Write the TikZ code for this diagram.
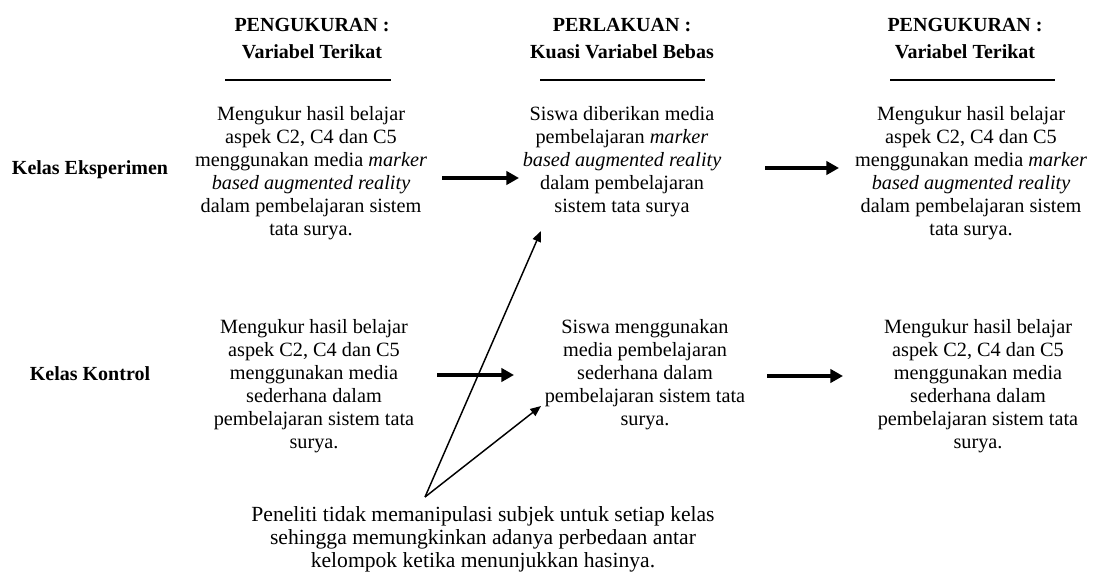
\documentclass[tikz,border=0pt]{standalone}
\usepackage{fontspec}
\setmainfont{Liberation Serif}
\usetikzlibrary{arrows.meta}
\begin{document}
\begin{tikzpicture}[x=0.75pt,y=-0.75pt,
  hdr/.style={font=\fontsize{15}{20.25}\selectfont\bfseries,align=center,inner sep=0pt},
  body/.style={font=\fontsize{15.2}{17.25}\selectfont,align=center,inner sep=0pt},
  note/.style={font=\fontsize{16.2}{17.25}\selectfont,align=center,inner sep=0pt},
  rowlbl/.style={font=\fontsize{15}{18}\selectfont\bfseries,inner sep=0pt},
  bigarrow/.style={line width=3pt,-{Triangle[length=9.5pt,width=10pt]}},
  thinarrow/.style={line width=1.1pt,-{Triangle[length=8pt,width=6.5pt]}},
  rule/.style={line width=0.8pt}]
\useasboundingbox (0,0) rectangle (1094,573);
% headers
\node[hdr] (h1) at (312,39) {PENGUKURAN :\\Variabel Terikat};
\node[hdr] (h2) at (622,39) {PERLAKUAN :\\Kuasi Variabel Bebas};
\node[hdr] (h3) at (965,39) {PENGUKURAN :\\Variabel Terikat};
\draw[rule] (225,80) -- (391,80);
\draw[rule] (540,80) -- (705,80);
\draw[rule] (890,80) -- (1055,80);
% row labels
\node[rowlbl] (re) at (90,170) {Kelas Eksperimen};
\node[rowlbl] (rk) at (90,374) {Kelas Kontrol};
% row 1
\node[body] (e1) at (311,173) {Mengukur hasil belajar\\aspek C2, C4 dan C5\\menggunakan media \textit{marker}\\\textit{based augmented reality}\\dalam pembelajaran sistem\\tata surya.};
\node[body] (e2) at (622,162) {Siswa diberikan media\\pembelajaran \textit{marker}\\\textit{based augmented reality}\\dalam pembelajaran\\sistem tata surya};
\node[body] (e3) at (971,173) {Mengukur hasil belajar\\aspek C2, C4 dan C5\\menggunakan media \textit{marker}\\\textit{based augmented reality}\\dalam pembelajaran sistem\\tata surya.};
% row 2
\node[body] (k1) at (314,386) {Mengukur hasil belajar\\aspek C2, C4 dan C5\\menggunakan media\\sederhana dalam\\pembelajaran sistem tata\\surya.};
\node[body] (k2) at (645,375) {Siswa menggunakan\\media pembelajaran\\sederhana dalam\\pembelajaran sistem tata\\surya.};
\node[body] (k3) at (978,386) {Mengukur hasil belajar\\aspek C2, C4 dan C5\\menggunakan media\\sederhana dalam\\pembelajaran sistem tata\\surya.};
% bottom note
\node[note] (n) at (483,539) {Peneliti tidak memanipulasi subjek untuk setiap kelas\\sehingga memungkinkan adanya perbedaan antar\\kelompok ketika menunjukkan hasinya.};
% arrow coordinates
\coordinate (a1s) at (442,178); \coordinate (a1e) at (519,178);
\coordinate (a2s) at (765,168); \coordinate (a2e) at (839,168);
\coordinate (a3s) at (437,375); \coordinate (a3e) at (514,375);
\coordinate (a4s) at (767,376); \coordinate (a4e) at (843,376);
\coordinate (ns) at (425,497);
\coordinate (t1) at (541,231);
\coordinate (t2) at (541,406);
\draw[bigarrow] (a1s) -- (a1e);
\draw[bigarrow] (a2s) -- (a2e);
\draw[bigarrow] (a3s) -- (a3e);
\draw[bigarrow] (a4s) -- (a4e);
\draw[thinarrow] (ns) -- (t1);
\draw[thinarrow] (ns) -- (t2);
\end{tikzpicture}
\end{document}
